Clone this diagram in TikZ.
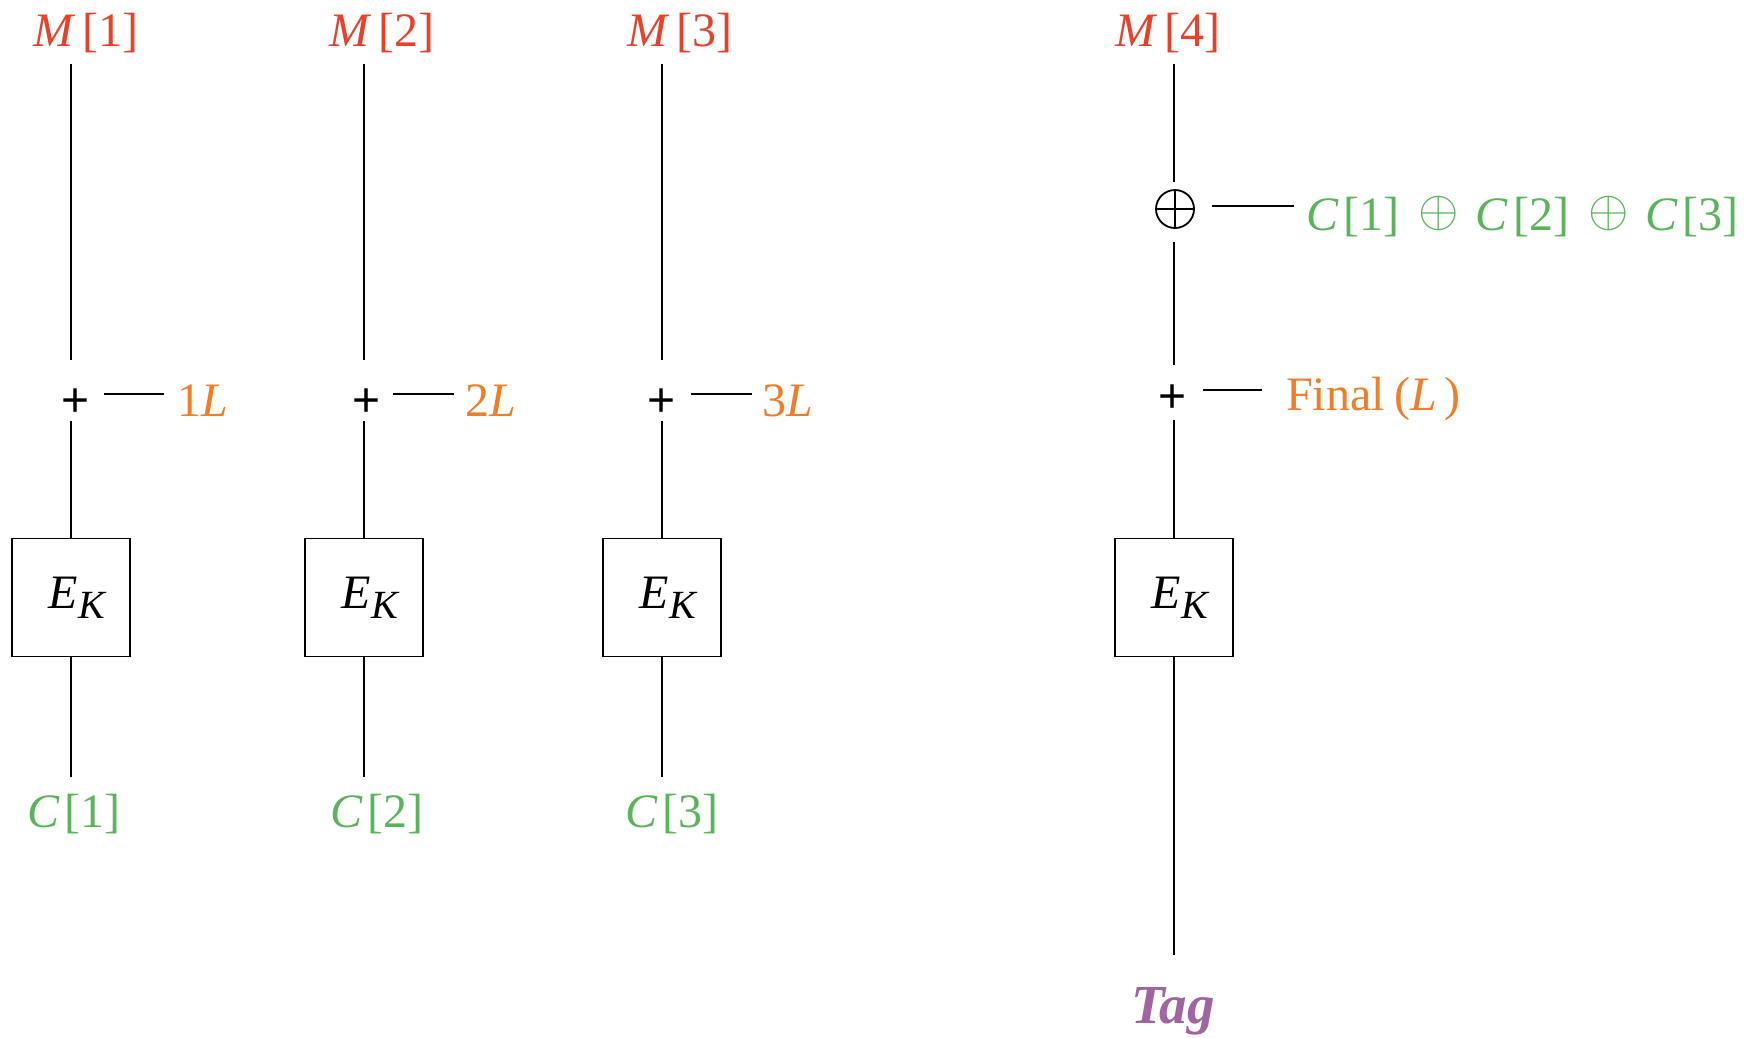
\documentclass[tikz,border=0pt]{standalone}
\usepackage{graphicx}
\usepackage{fontspec}
\setmainfont{Liberation Serif}
\newfontfamily\plusfont{Liberation Sans}
\definecolor{mred}{RGB}{232,65,42}
\definecolor{morange}{RGB}{240,125,40}
\definecolor{mgreen}{RGB}{90,180,90}
\definecolor{mpurple}{RGB}{160,100,160}
\newcommand{\gop}{\hspace{19pt}\raisebox{4pt}{\fontsize{10}{12}\selectfont\scalebox{5.2}{$\oplus$}}\hspace{17pt}}
\begin{document}
\begin{tikzpicture}[x=1pt,y=-1pt,
  conn/.style={line width=1.8pt},
  txt/.style={inner sep=0pt, font=\fontsize{48}{56}\selectfont},
  mlbl/.style={txt, text=mred, anchor=base, text depth=18pt},
  clbl/.style={txt, text=mgreen, anchor=base, text height=50pt},
  klbl/.style={txt, text=morange, anchor=base west, text height=44pt, text depth=0pt},
  plusnode/.style={inner sep=0pt, minimum width=28pt, minimum height=61pt,
    font=\plusfont\fontsize{48}{48}\selectfont, text height=52pt, text depth=0pt},
  ebox/.style={draw, line width=1.8pt, minimum width=118pt, minimum height=118pt,
    inner sep=0pt, font=\fontsize{48}{56}\selectfont},
  oplusnode/.style={draw, circle, line width=1.8pt, minimum size=38pt, inner sep=0pt,
    path picture={\draw[line width=2.6pt] (path picture bounding box.north) -- (path picture bounding box.south)
      (path picture bounding box.west) -- (path picture bounding box.east);}},
]
\useasboundingbox (0,0) rectangle (1756,1037);
\newcommand{\ek}{\hspace*{14pt}\textit{E}\kern1pt\raisebox{-10pt}{\fontsize{40}{40}\selectfont\textit{K}}}

% column 1
\node[mlbl] (m1) at (86,46) {\textit{M}\hspace{0.15em}[1]};
\node[plusnode] (p1) at (76,390.5) {+};
\node[klbl] (k1) at (177,416) {1\textit{L}};
\node[ebox] (b1) at (70.8,597.5) {\ek};
\node[clbl] (c1) at (74,827) {\textit{C}\hspace{0.1em}[1]};

% column 2
\node[mlbl] (m2) at (382,46) {\textit{M}\hspace{0.15em}[2]};
\node[plusnode] (p2) at (367,390.5) {+};
\node[klbl] (k2) at (465,416) {2\textit{L}};
\node[ebox] (b2) at (364,597.5) {\ek};
\node[clbl] (c2) at (377,827) {\textit{C}\hspace{0.1em}[2]};

% column 3
\node[mlbl] (m3) at (680,46) {\textit{M}\hspace{0.15em}[3]};
\node[plusnode] (p3) at (662,390.5) {+};
\node[klbl] (k3) at (762,416) {3\textit{L}};
\node[ebox] (b3) at (662,597.5) {\ek};
\node[clbl] (c3) at (672,827) {\textit{C}\hspace{0.1em}[3]};

% column 4
\node[mlbl] (m4) at (1168,46) {\textit{M}\hspace{0.15em}[4]};
\node[oplusnode] (o4) at (1175,209) {};
\node[txt, text=mgreen, anchor=base west, text height=48pt, text depth=0pt] (s4) at (1306,230)
  {\textit{C}\hspace{0.1em}[1]\gop\textit{C}\hspace{0.1em}[2]\gop\textit{C}\hspace{0.1em}[3]};
\node[plusnode, minimum height=55pt, text height=40pt] (p4) at (1173,392.5) {+};
\node[klbl, text height=40pt] (f4) at (1286,410) {Final\hspace{0.2em}(\textit{L}\hspace{0.15em})};
\node[ebox] (b4) at (1174,597.5) {\ek};
\node[txt, text=mpurple, anchor=base, text height=68pt, font=\fontsize{55}{60}\selectfont\bfseries\itshape] (t4) at (1173,1023) {Tag};

% connectors
\foreach \i in {1,2,3}{
  \draw[conn] (m\i.south -| b\i) -- (p\i.north -| b\i);
  \draw[conn] (p\i.south -| b\i) -- (b\i.north);
  \draw[conn] (b\i.south) -- (c\i.north -| b\i);
}
\draw[conn, shorten <=14pt, shorten >=13pt] (p1.east |- k1.west) -- (k1.west);
\draw[conn, shorten <=12pt, shorten >=11pt] (p2.east |- k2.west) -- (k2.west);
\draw[conn, shorten <=15pt, shorten >=10pt] (p3.east |- k3.west) -- (k3.west);

\draw[conn, shorten >=7pt] (m4.south -| b4) -- (o4.north -| b4);
\draw[conn, shorten <=13pt] (o4.south -| b4) -- (p4.north -| b4);
\draw[conn] (p4.south -| b4) -- (b4.north);
\draw[conn] (b4.south) -- (t4.north -| b4);
\draw[conn, shorten <=17pt, shorten >=12pt] (o4.east |- s4.west) -- (s4.west);
\draw[conn, shorten <=16pt, shorten >=24pt] (p4.east |- f4.west) -- (f4.west);
\end{tikzpicture}
\end{document}
